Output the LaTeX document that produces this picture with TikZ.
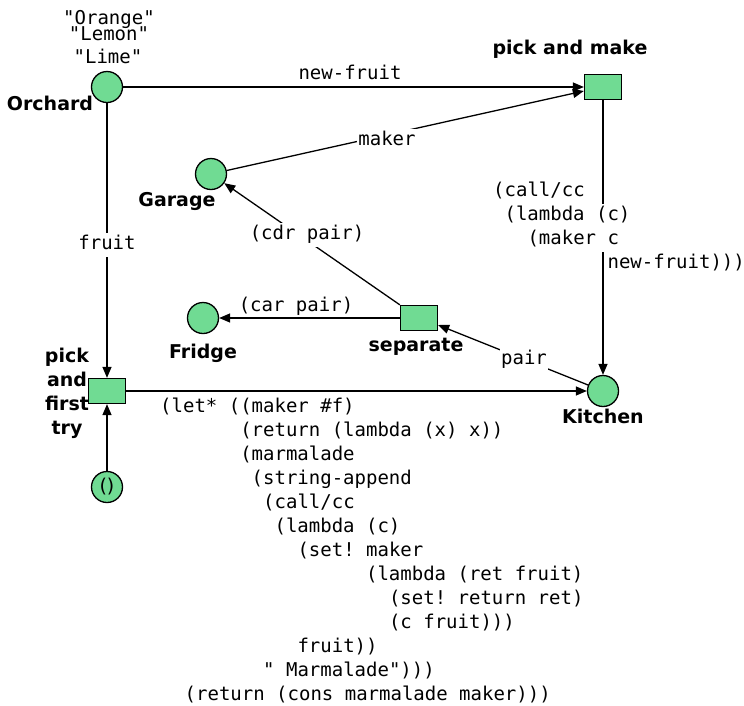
\documentclass[tikz,border=0pt]{standalone}
\usepackage{fontspec}
\setmainfont{DejaVu Sans}
\setmonofont{DejaVu Sans Mono}
\usetikzlibrary{arrows.meta}
\definecolor{placefill}{RGB}{112,219,147}
\tikzset{
  placenode/.style={circle, draw, fill=placefill, line width=1.3pt, minimum size=31pt, inner sep=0pt},
  transnode/.style={rectangle, draw, fill=placefill, line width=1.3pt, minimum width=37pt, minimum height=25pt, inner sep=0pt},
  nodelabel/.style={font=\fontsize{19}{24}\selectfont\bfseries, inner sep=0pt, text height=13.6pt, text depth=0pt},
  codetext/.style={font=\fontsize{19}{24}\selectfont\ttfamily, inner sep=0pt, text height=14pt, text depth=5pt, yshift=-2.5pt},
  codebox/.style={codetext, fill=white, inner xsep=1pt, inner ysep=2.5pt},
  arrowline/.style={line width=1.3pt, -{Triangle[length=11pt,width=9pt]}}
}
\begin{document}
\begin{tikzpicture}[x=1pt,y=-1pt]
\useasboundingbox (0,0) rectangle (744,705);

% places and transitions
\node[placenode] (orchard) at (107,87) {};
\node[transnode] (pmake) at (603,87) {};
\node[placenode] (garage) at (211,174) {};
\node[placenode] (fridge) at (203,318) {};
\node[transnode] (separate) at (419,318) {};
\node[transnode] (pfirst) at (107,391) {};
\node[placenode] (kitchen) at (603,391) {};
\node[placenode, font=\fontsize{19}{24}\selectfont] (empty) at (107,487) {()};

% arcs
\draw[arrowline] (orchard) -- (pmake);
\draw[arrowline] (garage) -- ([yshift=-4pt]pmake.west);
\draw[arrowline] (orchard) -- (pfirst);
\draw[arrowline] (pmake) -- (kitchen);
\draw[arrowline] (separate.north west) -- (garage);
\draw[arrowline] (separate) -- (fridge);
\draw[arrowline] (kitchen) -- ([yshift=-7pt]separate.east);
\draw[arrowline] (empty) -- (pfirst);
\draw[arrowline] (pfirst) -- (kitchen);

% node names
\node[nodelabel] (orchardname) at (50,104) {Orchard};
\node[nodelabel] (pmakename) at (570,48) {pick and make};
\node[nodelabel] (garagename) at (177,200) {Garage};
\node[nodelabel] (fridgename) at (203,352) {Fridge};
\node[nodelabel] (separatename) at (416,345) {separate};
\node[nodelabel] (kitchenname) at (603,417) {Kitchen};
\node[nodelabel] (pfirstname1) at (67,356) {pick};
\node[nodelabel] (pfirstname2) at (67,380) {and};
\node[nodelabel] (pfirstname3) at (67,404) {first};
\node[nodelabel] (pfirstname4) at (67,428) {try};

% tokens in the orchard
\node[codetext] (tok1) at (109,17) {"Orange"};
\node[codetext] (tok2) at (109,33) {"Lemon"};
\node[codetext] (tok3) at (108,56) {"Lime"};

% arc inscriptions
\node[codetext] (lnewfruit) at (350,72) {new-fruit};
\node[codebox] (lmaker) at (387,138) {maker};
\node[codebox] (lfruit) at (107,242) {fruit};
\node[codetext] (lcar) at (296,304) {(car pair)};
\node[codebox] (lcdr) at (307,232) {(cdr pair)};
\node[codebox] (lpair) at (524,357) {pair};

% inscription of pick and make -> Kitchen
\node[codebox, anchor=west] (cc1) at (492,189) {(call/cc};
\node[codebox, anchor=west] (cc2) at (503.4,213) {(lambda (c)};
\node[codebox, anchor=west] (cc3) at (526.3,237) {(maker c};
\node[codebox, anchor=west] (cc4) at (606.4,261) {new-fruit)))};

% inscription of pick and first try -> Kitchen
\node[codetext, anchor=west] (lt1) at (160,405) {(let* ((maker \#f)};
\node[codetext, anchor=west] (lt2) at (240.1,429) {(return (lambda (x) x))};
\node[codetext, anchor=west] (lt3) at (240.1,453) {(marmalade};
\node[codetext, anchor=west] (lt4) at (251.5,477) {(string-append};
\node[codetext, anchor=west] (lt5) at (263.0,501) {(call/cc};
\node[codetext, anchor=west] (lt6) at (274.4,525) {(lambda (c)};
\node[codetext, anchor=west] (lt7) at (297.3,549) {(set! maker};
\node[codetext, anchor=west] (lt8) at (365.9,573) {(lambda (ret fruit)};
\node[codetext, anchor=west] (lt9) at (388.8,597) {(set! return ret)};
\node[codetext, anchor=west] (lt10) at (388.8,621) {(c fruit)))};
\node[codetext, anchor=west] (lt11) at (297.3,645) {fruit))};
\node[codetext, anchor=west] (lt12) at (263.0,669) {" Marmalade")))};
\node[codetext, anchor=west] (lt13) at (184.5,693) {(return (cons marmalade maker)))};
\end{tikzpicture}
\end{document}
